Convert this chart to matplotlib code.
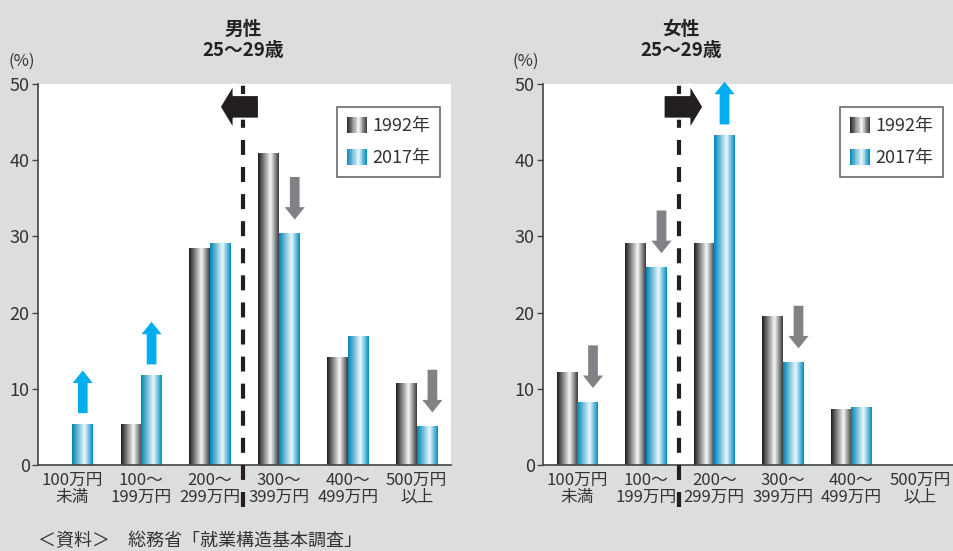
import matplotlib

matplotlib.use("Agg")
import matplotlib.pyplot as plt
import numpy as np
from matplotlib.colors import LinearSegmentedColormap
from matplotlib.legend_handler import HandlerBase
from matplotlib.patches import Rectangle

plt.rcParams["font.family"] = ["Noto Sans CJK JP", "DejaVu Sans"]

# --- data ---
categories = ["100万円\n未満", "100〜\n199万円", "200〜\n299万円",
              "300〜\n399万円", "400〜\n499万円", "500万円\n以上"]
years = ["1992年", "2017年"]

male_1992 = [0.0, 5.4, 28.5, 40.9, 14.2, 10.8]
male_2017 = [5.4, 11.8, 29.1, 30.4, 16.9, 5.1]
female_1992 = [12.2, 29.1, 29.1, 19.6, 7.4, 0.0]
female_2017 = [8.3, 26.0, 43.3, 13.5, 7.6, 0.0]

# change arrows: (category index, direction)
male_changes = [(0, "up"), (1, "up"), (3, "down"), (5, "down")]
female_changes = [(0, "down"), (1, "down"), (2, "up"), (3, "down")]

panel_titles = ["男性\n25〜29歳", "女性\n25〜29歳"]
source_note = "＜資料＞　総務省「就業構造基本調査」"

# --- style ---
BG = "#dcdddf"
TEXT = "#333333"
SPINE = "#444444"
BLUE_ARROW = "#00aeef"
GRAY_ARROW = "#808285"
BLACK = "#231f20"
BAR_W = 0.3

cmap_1992 = LinearSegmentedColormap.from_list(
    "g92", [(0, "#1c1c1c"), (0.6, "#f7f7f7"), (1, "#3a3a3a")])
cmap_2017 = LinearSegmentedColormap.from_list(
    "g17", [(0, "#0084b6"), (0.6, "#eaf7fc"), (1, "#008ec3")])


class GradientHandler(HandlerBase):
    def __init__(self, cmap, n=24):
        super().__init__()
        self.cmap = cmap
        self.n = n

    def create_artists(self, legend, orig_handle, xdescent, ydescent,
                       width, height, fontsize, trans):
        arts = []
        for k in range(self.n):
            arts.append(Rectangle(
                (-xdescent + width * k / self.n, -ydescent),
                width / self.n * 1.05, height,
                facecolor=self.cmap((k + 0.5) / self.n), edgecolor="none",
                transform=trans))
        return arts


def gradient_bars(ax, x, values, cmap):
    bars = ax.bar(x, values, width=BAR_W, color="none", edgecolor="none")
    grad = np.linspace(0, 1, 128).reshape(1, -1)
    for b in bars:
        if b.get_height() <= 0:
            continue
        x0 = b.get_x()
        im = ax.imshow(grad, cmap=cmap, aspect="auto", interpolation="bilinear",
                       extent=(x0, x0 + b.get_width(), 0, b.get_height()),
                       zorder=2)
        im.set_clip_path(b)


def change_arrow(ax, x, v, direction):
    if direction == "up":
        start, end, color = v + 1.4, v + 7.0, BLUE_ARROW
    else:
        start, end, color = v + 7.4, v + 1.8, GRAY_ARROW
        x = x + 0.08
    ax.annotate("", xy=(x, end), xytext=(x, start), annotation_clip=False,
                arrowprops=dict(arrowstyle="simple,head_width=14.5,head_length=9,tail_width=7",
                                mutation_scale=1, shrinkA=0, shrinkB=0,
                                facecolor=color, edgecolor="none", clip_on=False),
                zorder=4)


def shift_arrow(ax, divider, direction):
    if direction == "left":
        tail, tip = divider + 0.23, divider - 0.34
    else:
        tail, tip = divider - 0.23, divider + 0.35
    ax.annotate("", xy=(tip, 47.0), xytext=(tail, 47.0), annotation_clip=False,
                arrowprops=dict(arrowstyle="simple,head_width=33,head_length=10,tail_width=17",
                                mutation_scale=1, shrinkA=0, shrinkB=0,
                                facecolor=BLACK, edgecolor="white", linewidth=1.5),
                zorder=5)


def draw_panel(ax, v1992, v2017, changes, divider, shift_dir):
    x = np.arange(len(categories))
    gradient_bars(ax, x - BAR_W / 2, v1992, cmap_1992)
    gradient_bars(ax, x + BAR_W / 2, v2017, cmap_2017)

    ax.set_xlim(-0.5, 5.5)
    ax.set_ylim(0, 50)
    ax.set_yticks(range(0, 51, 10))
    ax.set_xticks(x)
    ax.set_xticklabels(categories, linespacing=1.0)
    ax.tick_params(axis="x", length=0, pad=5, labelsize=12, labelcolor=TEXT)
    ax.tick_params(axis="y", length=4, width=1, color=SPINE, pad=2,
                   labelsize=13, labelcolor=TEXT)
    for side in ("top", "right"):
        ax.spines[side].set_visible(False)
    for side in ("left", "bottom"):
        ax.spines[side].set_color(SPINE)
        ax.spines[side].set_linewidth(1.2)

    ax.axvline(divider, ymin=-0.11, ymax=1.027, color=BLACK, lw=3,
               linestyle=(0, (3.6, 2.9)), clip_on=False, zorder=3)

    for i, d in changes:
        change_arrow(ax, x[i] + BAR_W / 2, v2017[i], d)
    shift_arrow(ax, divider, shift_dir)

    h = [Rectangle((0, 0), 1, 1), Rectangle((0, 0), 1, 1)]
    leg = ax.legend(h, years, loc="upper right", bbox_to_anchor=(0.973, 0.94),
                    borderaxespad=0, fontsize=13, frameon=True, fancybox=False,
                    handlelength=1.1, handleheight=1.0, handletextpad=0.3,
                    labelspacing=0.75, borderpad=0.55,
                    handler_map={h[0]: GradientHandler(cmap_1992),
                                 h[1]: GradientHandler(cmap_2017)})
    leg.get_frame().set_edgecolor(SPINE)
    leg.get_frame().set_linewidth(1.2)
    for t in leg.get_texts():
        t.set_color(TEXT)


W, H = 954, 551
fig = plt.figure(figsize=(W / 100, H / 100), dpi=100, facecolor=BG)
ax_m = fig.add_axes([38 / W, 1 - 465 / H, 413 / W, 381 / H])
ax_f = fig.add_axes([543 / W, 1 - 465 / H, 411 / W, 381 / H])

draw_panel(ax_m, male_1992, male_2017, male_changes, 2.48, "left")
draw_panel(ax_f, female_1992, female_2017, female_changes, 1.49, "right")

for cx, title in zip((243, 681), panel_titles):
    fig.text(cx / W, 1 - 40 / H, title, ha="center", va="center",
             fontsize=13.5, fontweight="bold", color="#222222", linespacing=1.1)

fig.text(8 / W, 1 - 61 / H, "(%)", ha="left", va="center", fontsize=12, color=TEXT)
fig.text(512 / W, 1 - 61 / H, "(%)", ha="left", va="center", fontsize=12, color=TEXT)
fig.text(38 / W, 1 - 541 / H, source_note, ha="left", va="center",
         fontsize=13, color=TEXT)

fig.savefig("out.png", dpi=100, facecolor=BG)
